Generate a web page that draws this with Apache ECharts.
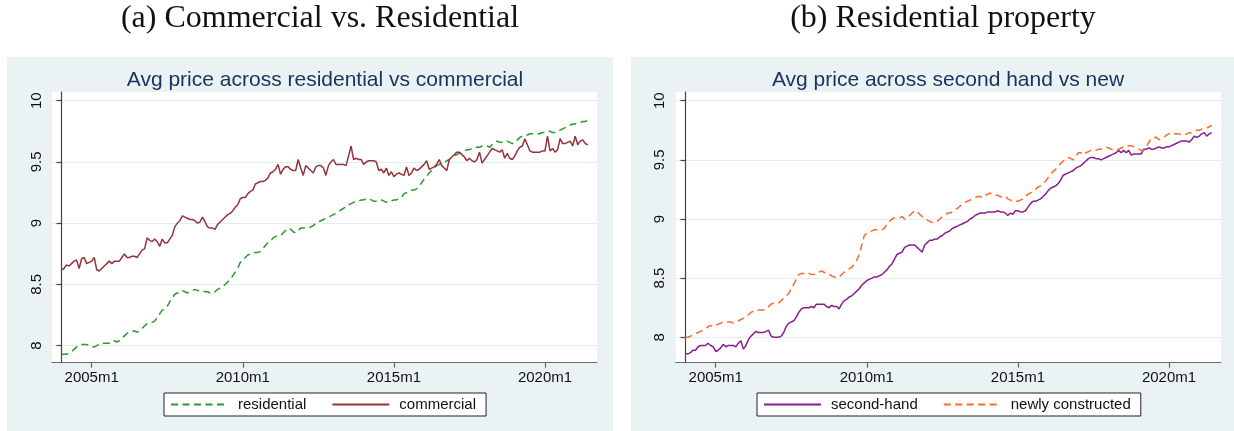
<!DOCTYPE html>
<html>
<head>
<meta charset="utf-8">
<script src="https://cdn.jsdelivr.net/npm/echarts@6/dist/echarts.min.js"></script>
<style>
  html, body { margin: 0; padding: 0; background: #ffffff; }
  #chart { width: 1234px; height: 431px; }
</style>
</head>
<body>
<div id="chart"></div>
<script>
// Monthly log average prices, 2004m1 .. 2021m6 (210 months)
const startYear = 2004;

const residential = [
  7.93, 7.93, 7.93, 7.94, 7.95, 7.97, 7.99, 8.00, 8.01, 8.01, 8.01, 8.00,
  7.99, 7.99, 8.00, 8.01, 8.02, 8.02, 8.02, 8.02, 8.02, 8.04, 8.03, 8.04,
  8.06, 8.08, 8.10, 8.11, 8.12, 8.12, 8.11, 8.12, 8.14, 8.16, 8.18, 8.18,
  8.19, 8.20, 8.23, 8.26, 8.29, 8.30, 8.32, 8.36, 8.39, 8.42, 8.43, 8.44,
  8.45, 8.44, 8.43, 8.44, 8.45, 8.46, 8.45, 8.45, 8.45, 8.44, 8.44, 8.43,
  8.43, 8.44, 8.46, 8.47, 8.48, 8.50, 8.52, 8.54, 8.57, 8.60, 8.63, 8.68,
  8.70, 8.72, 8.74, 8.75, 8.76, 8.76, 8.76, 8.77, 8.79, 8.82, 8.84, 8.85,
  8.88, 8.89, 8.90, 8.90, 8.92, 8.94, 8.96, 8.95, 8.93, 8.92, 8.94, 8.96,
  8.96, 8.96, 8.96, 8.97, 8.98, 9.00, 9.01, 9.02, 9.03, 9.04, 9.05, 9.06,
  9.07, 9.08, 9.09, 9.11, 9.12, 9.14, 9.15, 9.16, 9.17, 9.18, 9.18, 9.19,
  9.19, 9.20, 9.20, 9.19, 9.18, 9.18, 9.19, 9.19, 9.18, 9.17, 9.18, 9.18,
  9.19, 9.19, 9.20, 9.21, 9.24, 9.25, 9.26, 9.27, 9.27, 9.28, 9.30, 9.33,
  9.36, 9.38, 9.41, 9.43, 9.45, 9.47, 9.48, 9.49, 9.50, 9.51, 9.52, 9.54,
  9.55, 9.56, 9.57, 9.58, 9.59, 9.60, 9.60, 9.61, 9.61, 9.62, 9.62, 9.63,
  9.63, 9.63, 9.62, 9.64, 9.66, 9.67, 9.66, 9.66, 9.66, 9.67, 9.66, 9.65,
  9.66, 9.68, 9.70, 9.71, 9.72, 9.72, 9.73, 9.73, 9.73, 9.73, 9.73, 9.74,
  9.74, 9.75, 9.75, 9.74, 9.74, 9.75, 9.76, 9.77, 9.78, 9.79, 9.80, 9.81,
  9.81, 9.82, 9.82, 9.83, 9.83, 9.84
];

const commercial = [
  8.62, 8.63, 8.66, 8.65, 8.67, 8.69, 8.70, 8.63, 8.71, 8.72, 8.67, 8.68,
  8.69, 8.72, 8.62, 8.61, 8.63, 8.65, 8.67, 8.69, 8.67, 8.69, 8.69, 8.69,
  8.72, 8.75, 8.72, 8.72, 8.73, 8.73, 8.72, 8.75, 8.78, 8.79, 8.88, 8.86,
  8.85, 8.87, 8.85, 8.81, 8.87, 8.84, 8.84, 8.87, 8.90, 8.97, 9.00, 9.02,
  9.06, 9.05, 9.04, 9.03, 9.03, 9.02, 9.00, 9.01, 9.05, 9.01, 8.97, 8.96,
  8.96, 8.95, 8.99, 9.01, 9.03, 9.05, 9.07, 9.08, 9.10, 9.13, 9.15, 9.20,
  9.21, 9.21, 9.24, 9.26, 9.27, 9.32, 9.33, 9.34, 9.34, 9.35, 9.37, 9.41,
  9.42, 9.44, 9.48, 9.40, 9.44, 9.46, 9.46, 9.44, 9.43, 9.43, 9.52, 9.45,
  9.39, 9.47, 9.45, 9.43, 9.41, 9.46, 9.47, 9.47, 9.45, 9.39, 9.47, 9.50,
  9.52, 9.48, 9.48, 9.48, 9.48, 9.47, 9.55, 9.63, 9.52, 9.53, 9.52, 9.52,
  9.48, 9.50, 9.51, 9.51, 9.51, 9.50, 9.43, 9.44, 9.41, 9.45, 9.39, 9.42,
  9.38, 9.40, 9.41, 9.40, 9.39, 9.46, 9.39, 9.41, 9.45, 9.43, 9.44, 9.46,
  9.48, 9.51, 9.44, 9.45, 9.46, 9.48, 9.52, 9.47, 9.45, 9.43, 9.52, 9.54,
  9.56, 9.58, 9.58, 9.56, 9.54, 9.51, 9.53, 9.51, 9.50, 9.52, 9.58, 9.49,
  9.52, 9.55, 9.58, 9.61, 9.60, 9.59, 9.58, 9.60, 9.53, 9.57, 9.53, 9.52,
  9.55, 9.59, 9.62, 9.63, 9.69, 9.64, 9.59, 9.58, 9.58, 9.58, 9.58, 9.59,
  9.59, 9.71, 9.59, 9.61, 9.58, 9.60, 9.69, 9.65, 9.65, 9.66, 9.67, 9.63,
  9.71, 9.64, 9.67, 9.68, 9.65, 9.64
];

const secondHand = [
  7.86, 7.86, 7.87, 7.89, 7.89, 7.92, 7.93, 7.93, 7.93, 7.95, 7.93, 7.92,
  7.88, 7.89, 7.91, 7.94, 7.92, 7.93, 7.93, 7.93, 7.92, 7.95, 7.97, 7.90,
  7.93, 7.98, 8.01, 8.03, 8.05, 8.04, 8.04, 8.04, 8.05, 8.06, 8.01, 8.00,
  8.00, 8.00, 8.01, 8.04, 8.09, 8.12, 8.13, 8.14, 8.17, 8.21, 8.24, 8.25,
  8.25, 8.25, 8.26, 8.25, 8.28, 8.28, 8.28, 8.28, 8.26, 8.25, 8.27, 8.26,
  8.26, 8.24, 8.28, 8.31, 8.32, 8.34, 8.35, 8.37, 8.39, 8.41, 8.44, 8.46,
  8.48, 8.49, 8.50, 8.51, 8.51, 8.52, 8.53, 8.55, 8.57, 8.60, 8.62, 8.66,
  8.70, 8.71, 8.72, 8.76, 8.77, 8.78, 8.78, 8.78, 8.76, 8.74, 8.72, 8.78,
  8.80, 8.82, 8.82, 8.83, 8.83, 8.85, 8.86, 8.88, 8.89, 8.90, 8.92, 8.93,
  8.94, 8.95, 8.96, 8.97, 8.98, 9.00, 9.01, 9.03, 9.04, 9.05, 9.05, 9.05,
  9.06, 9.06, 9.06, 9.06, 9.07, 9.06, 9.06, 9.05, 9.03, 9.05, 9.04, 9.07,
  9.07, 9.06, 9.06, 9.07, 9.10, 9.13, 9.15, 9.15, 9.16, 9.17, 9.19, 9.21,
  9.24, 9.26, 9.27, 9.28, 9.30, 9.33, 9.37, 9.38, 9.39, 9.40, 9.41, 9.43,
  9.44, 9.45, 9.47, 9.49, 9.51, 9.52, 9.52, 9.51, 9.51, 9.50, 9.51, 9.52,
  9.53, 9.54, 9.55, 9.56, 9.58, 9.56, 9.58, 9.56, 9.58, 9.54, 9.55, 9.55,
  9.55, 9.55, 9.59, 9.59, 9.60, 9.59, 9.59, 9.60, 9.61, 9.60, 9.60, 9.61,
  9.61, 9.62, 9.63, 9.64, 9.65, 9.66, 9.66, 9.66, 9.65, 9.67, 9.70, 9.69,
  9.70, 9.72, 9.73, 9.70, 9.72, 9.73
];

const newlyConstructed = [
  8.00, 8.00, 8.01, 8.02, 8.03, 8.04, 8.05, 8.06, 8.07, 8.09, 8.10, 8.09,
  8.10, 8.11, 8.12, 8.13, 8.13, 8.13, 8.13, 8.12, 8.13, 8.14, 8.15, 8.16,
  8.18, 8.19, 8.21, 8.22, 8.23, 8.23, 8.23, 8.23, 8.25, 8.26, 8.28, 8.29,
  8.29, 8.29, 8.31, 8.33, 8.35, 8.37, 8.41, 8.45, 8.49, 8.53, 8.54, 8.54,
  8.53, 8.54, 8.53, 8.53, 8.54, 8.55, 8.56, 8.55, 8.54, 8.53, 8.52, 8.51,
  8.50, 8.51, 8.53, 8.55, 8.57, 8.58, 8.59, 8.62, 8.65, 8.70, 8.78, 8.86,
  8.88, 8.89, 8.90, 8.91, 8.91, 8.91, 8.91, 8.92, 8.96, 8.98, 9.00, 9.01,
  9.01, 9.01, 9.02, 9.00, 9.01, 9.03, 9.05, 9.07, 9.06, 9.04, 9.02, 9.01,
  8.99, 8.98, 8.97, 8.97, 8.98, 9.00, 9.02, 9.03, 9.05, 9.05, 9.06, 9.08,
  9.09, 9.11, 9.12, 9.14, 9.15, 9.16, 9.17, 9.18, 9.19, 9.19, 9.18, 9.20,
  9.21, 9.22, 9.20, 9.20, 9.20, 9.19, 9.18, 9.19, 9.17, 9.16, 9.15, 9.15,
  9.15, 9.16, 9.17, 9.19, 9.21, 9.22, 9.24, 9.25, 9.27, 9.28, 9.30, 9.32,
  9.35, 9.38, 9.40, 9.42, 9.45, 9.47, 9.49, 9.51, 9.52, 9.51, 9.50, 9.53,
  9.56, 9.56, 9.54, 9.56, 9.57, 9.58, 9.58, 9.58, 9.59, 9.59, 9.60, 9.61,
  9.60, 9.59, 9.58, 9.58, 9.59, 9.60, 9.61, 9.62, 9.62, 9.62, 9.61, 9.60,
  9.59, 9.58, 9.58, 9.61, 9.65, 9.68, 9.69, 9.69, 9.67, 9.68, 9.69, 9.71,
  9.72, 9.73, 9.72, 9.72, 9.72, 9.71, 9.71, 9.72, 9.73, 9.73, 9.74, 9.75,
  9.75, 9.76, 9.77, 9.77, 9.78, 9.79
];

// Tick positions: month index of 2005m1, 2010m1, 2015m1, 2020m1
const xTicks = [12, 72, 132, 192];
const yTicks = [8, 8.5, 9, 9.5, 10];

const panelTitles = ['(a) Commercial vs. Residential', '(b) Residential property'];
const subTitles = ['Avg price across residential vs commercial', 'Avg price across second hand vs new'];

const toPairs = arr => arr.map((v, i) => [i, v]);
const monthLabel = v => (startYear + Math.floor(v / 12)) + 'm' + (Math.round(v) % 12 + 1);

const BG = '#EAF2F3';
const GRID_LINE = '#E4EDF0';
const AXIS = '#6b6b6b';
const SANS = 'Liberation Sans, Arial, sans-serif';
const SERIF = '32px "Liberation Serif", "DejaVu Serif", serif';

function xAxis(gridIndex, min, max) {
  return {
    type: 'value', gridIndex, min, max,
    axisLine: { show: true, lineStyle: { color: AXIS, width: 1.2 } },
    axisTick: { show: true, length: 5, customValues: xTicks, lineStyle: { color: AXIS, width: 1.2 } },
    axisLabel: { customValues: xTicks, formatter: monthLabel, color: '#111', fontSize: 15, fontFamily: SANS, margin: 8 },
    splitLine: { show: false }
  };
}
function yAxis(gridIndex, min, max) {
  return {
    type: 'value', gridIndex, min, max,
    axisLine: { show: true, lineStyle: { color: '#444', width: 1.2 } },
    axisTick: { show: true, length: 5, customValues: yTicks, lineStyle: { color: '#444', width: 1.2 } },
    axisLabel: { customValues: yTicks, rotate: 90, color: '#111', fontSize: 15, fontFamily: SANS, margin: 8,
                 formatter: v => String(v) },
    splitLine: { show: true, lineStyle: { color: GRID_LINE, width: 1.2 } }
  };
}
function legend(left, names) {
  return {
    data: names, left, top: 393, orient: 'horizontal',
    backgroundColor: '#ffffff', borderColor: '#222', borderWidth: 1,
    padding: [4, 10, 4, 6], itemGap: 25, itemWidth: 57, itemHeight: 14,
    itemStyle: { opacity: 0, borderWidth: 0 },
    textStyle: { fontSize: 15, fontFamily: SANS, color: '#111', padding: [0, 0, 0, 5] }
  };
}
function lineSeries(name, data, xi, color, dashed) {
  return {
    name, type: 'line', xAxisIndex: xi, yAxisIndex: xi, data: toPairs(data),
    symbol: 'none', showSymbol: false, smooth: false, animation: false,
    lineStyle: { color, width: 1.5, type: dashed ? [7, 4.5] : 'solid' },
    itemStyle: { color }
  };
}

const chart = echarts.init(document.getElementById('chart'), null, { renderer: 'canvas' });
chart.setOption({
  animation: false,
  backgroundColor: '#ffffff',
  graphic: [
    { type: 'rect', z: -10, silent: true, shape: { x: 7, y: 57, width: 606, height: 380 }, style: { fill: BG } },
    { type: 'rect', z: -10, silent: true, shape: { x: 631, y: 57, width: 610, height: 380 }, style: { fill: BG } },
    { type: 'text', x: 320, y: 19, style: { text: panelTitles[0], fill: '#111',
      font: SERIF, textAlign: 'center', textVerticalAlign: 'middle' } },
    { type: 'text', x: 943, y: 19, style: { text: panelTitles[1], fill: '#111',
      font: SERIF, textAlign: 'center', textVerticalAlign: 'middle' } },
    { type: 'text', x: 325, y: 80, style: { text: subTitles[0], fill: '#1C3462',
      font: '21px ' + SANS, textAlign: 'center', textVerticalAlign: 'middle' } },
    { type: 'text', x: 948, y: 80, style: { text: subTitles[1], fill: '#1C3462',
      font: '21px ' + SANS, textAlign: 'center', textVerticalAlign: 'middle' } }
  ],
  grid: [
    { left: 52, top: 92, width: 545, height: 270.7, show: true, backgroundColor: '#ffffff', borderWidth: 0 },
    { left: 675.7, top: 92, width: 545.3, height: 270.7, show: true, backgroundColor: '#ffffff', borderWidth: 0 }
  ],
  xAxis: [ xAxis(0, -3.76, 212.65), xAxis(1, -3.88, 212.65) ],
  yAxis: [ yAxis(0, 7.861, 10.071), yAxis(1, 7.785, 10.0735) ],
  legend: [ legend(164, ['residential', 'commercial']), legend(757, ['second-hand', 'newly constructed']) ],
  series: [
    lineSeries('residential', residential, 0, '#2A9A2A', true),
    lineSeries('commercial', commercial, 0, '#93353D', false),
    lineSeries('second-hand', secondHand, 1, '#861F8C', false),
    lineSeries('newly constructed', newlyConstructed, 1, '#FF6A2C', true)
  ]
});
</script>
</body>
</html>
